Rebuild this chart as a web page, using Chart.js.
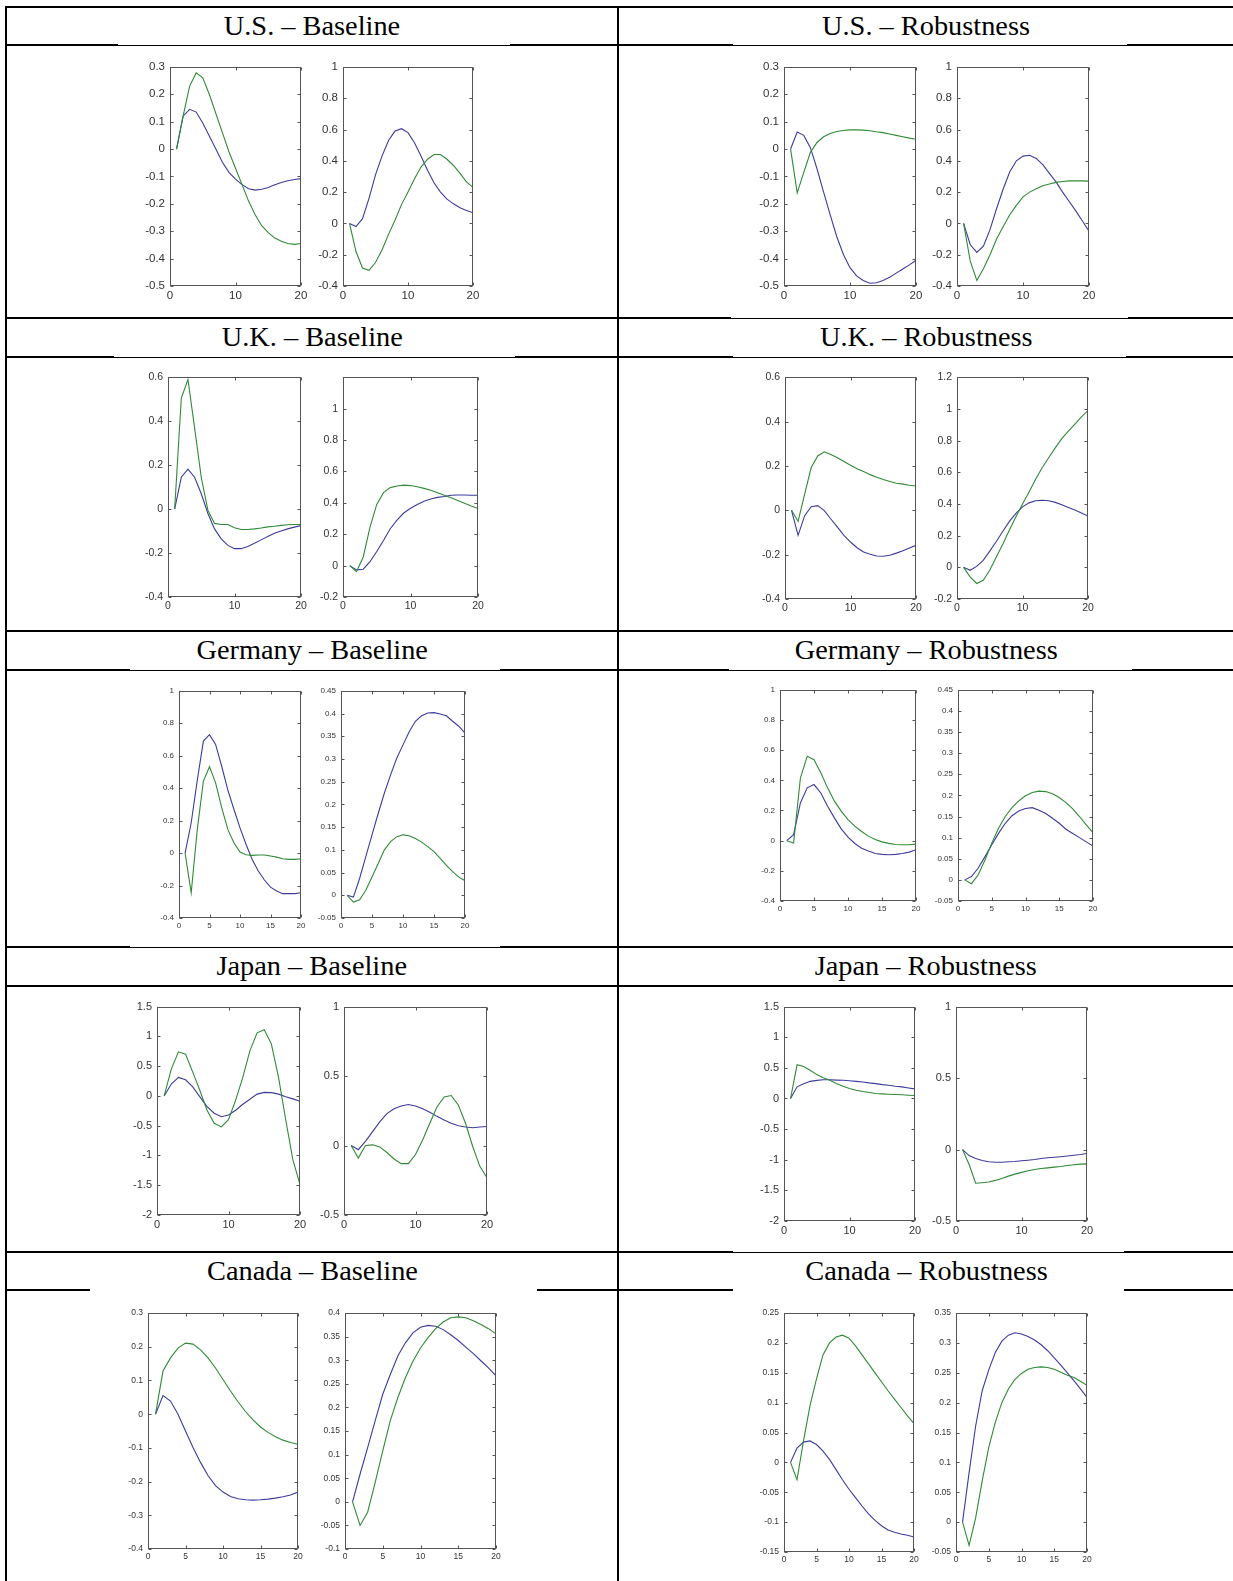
<!DOCTYPE html>
<html>
<head>
<meta charset="utf-8">
<script src="https://cdn.jsdelivr.net/npm/chart.js@4.4.0/dist/chart.umd.min.js"></script>
<style>
  body { margin: 0; background: #fff; }
  #page { position: relative; width: 1233px; height: 1581px; overflow: hidden; background: #fff; }
  .ln { position: absolute; background: #000; }
  .hd { position: absolute; text-align: center; font-family: "Liberation Serif", "Times New Roman", serif; font-size: 27px; color: #000; white-space: nowrap; }
  .hd span { display: inline-block; transform: scaleX(1.05); }
  .plot { position: absolute; }
</style>
</head>
<body>
<div id="page"></div>
<script>
// impulse response horizon
const horizon = [1, 2, 3, 4, 5, 6, 7, 8, 9, 10, 11, 12, 13, 14, 15, 16, 17, 18, 19, 20];

// U.S.
const usBaseLeftBlue = [0, 0.12, 0.145, 0.135, 0.095, 0.048, 0, -0.048, -0.085, -0.11, -0.13, -0.145, -0.15, -0.147, -0.14, -0.13, -0.122, -0.116, -0.111, -0.108];
const usBaseLeftGreen = [0, 0.12, 0.23, 0.278, 0.26, 0.2, 0.13, 0.06, -0.01, -0.07, -0.13, -0.19, -0.24, -0.28, -0.305, -0.325, -0.337, -0.345, -0.348, -0.345];
const usBaseRightBlue = [0, -0.02, 0.03, 0.16, 0.31, 0.43, 0.53, 0.59, 0.605, 0.58, 0.515, 0.43, 0.34, 0.26, 0.2, 0.155, 0.125, 0.1, 0.083, 0.068];
const usBaseRightGreen = [0, -0.18, -0.285, -0.3, -0.25, -0.17, -0.07, 0.02, 0.12, 0.2, 0.285, 0.36, 0.41, 0.44, 0.44, 0.41, 0.37, 0.32, 0.265, 0.23];
const usRobLeftBlue = [0, 0.062, 0.05, 0.005, -0.072, -0.157, -0.24, -0.32, -0.385, -0.433, -0.463, -0.48, -0.49, -0.488, -0.48, -0.468, -0.453, -0.438, -0.423, -0.406];
const usRobLeftGreen = [0, -0.16, -0.085, -0.012, 0.024, 0.045, 0.057, 0.064, 0.068, 0.07, 0.07, 0.069, 0.067, 0.063, 0.06, 0.055, 0.05, 0.045, 0.04, 0.036];
const usRobRightBlue = [0, -0.135, -0.185, -0.145, -0.04, 0.095, 0.22, 0.33, 0.4, 0.43, 0.435, 0.415, 0.375, 0.32, 0.265, 0.2, 0.14, 0.08, 0.015, -0.05];
const usRobRightGreen = [0, -0.24, -0.365, -0.29, -0.2, -0.1, -0.02, 0.055, 0.115, 0.17, 0.2, 0.222, 0.24, 0.252, 0.262, 0.268, 0.272, 0.273, 0.272, 0.27];

// U.K.
const ukBaseLeftBlue = [0, 0.145, 0.182, 0.145, 0.07, -0.02, -0.09, -0.135, -0.165, -0.18, -0.18, -0.17, -0.155, -0.14, -0.125, -0.11, -0.1, -0.09, -0.082, -0.075];
const ukBaseLeftGreen = [0, 0.505, 0.59, 0.37, 0.145, -0.005, -0.065, -0.07, -0.07, -0.085, -0.093, -0.093, -0.09, -0.086, -0.081, -0.078, -0.074, -0.071, -0.07, -0.07];
const ukBaseRightBlue = [0, -0.027, -0.023, 0.025, 0.09, 0.16, 0.235, 0.29, 0.335, 0.365, 0.39, 0.41, 0.425, 0.435, 0.44, 0.448, 0.45, 0.45, 0.448, 0.448];
const ukBaseRightGreen = [0, -0.038, 0.055, 0.245, 0.39, 0.465, 0.497, 0.507, 0.513, 0.51, 0.503, 0.492, 0.48, 0.465, 0.448, 0.432, 0.415, 0.398, 0.38, 0.364];
const ukRobLeftBlue = [0, -0.113, -0.024, 0.016, 0.021, -0.001, -0.039, -0.076, -0.113, -0.143, -0.169, -0.188, -0.198, -0.206, -0.207, -0.203, -0.193, -0.182, -0.17, -0.158];
const ukRobLeftGreen = [0, -0.05, 0.073, 0.193, 0.245, 0.264, 0.252, 0.237, 0.22, 0.203, 0.188, 0.175, 0.161, 0.149, 0.139, 0.13, 0.122, 0.118, 0.113, 0.11];
const ukRobRightBlue = [0, -0.019, 0.006, 0.044, 0.102, 0.163, 0.228, 0.29, 0.34, 0.382, 0.407, 0.42, 0.424, 0.42, 0.41, 0.395, 0.378, 0.362, 0.343, 0.324];
const ukRobRightGreen = [0, -0.06, -0.102, -0.082, -0.019, 0.065, 0.148, 0.236, 0.32, 0.4, 0.476, 0.556, 0.629, 0.692, 0.754, 0.813, 0.86, 0.905, 0.95, 0.99];

// Germany
const deBaseLeftBlue = [0, 0.187, 0.45, 0.69, 0.73, 0.67, 0.535, 0.39, 0.27, 0.155, 0.053, -0.04, -0.11, -0.166, -0.21, -0.234, -0.25, -0.25, -0.25, -0.244];
const deBaseLeftGreen = [0, -0.245, 0.146, 0.444, 0.532, 0.433, 0.28, 0.146, 0.064, 0.006, -0.01, -0.014, -0.012, -0.012, -0.018, -0.025, -0.035, -0.039, -0.039, -0.035];
const deBaseRightBlue = [0, -0.004, 0.037, 0.085, 0.133, 0.18, 0.225, 0.265, 0.302, 0.331, 0.36, 0.383, 0.395, 0.401, 0.402, 0.399, 0.395, 0.383, 0.372, 0.357];
const deBaseRightGreen = [0, -0.015, -0.01, 0.011, 0.04, 0.07, 0.1, 0.118, 0.129, 0.133, 0.131, 0.125, 0.117, 0.107, 0.096, 0.081, 0.066, 0.052, 0.04, 0.032];
const deRobLeftBlue = [0, 0.04, 0.25, 0.35, 0.372, 0.316, 0.228, 0.151, 0.078, 0.023, -0.019, -0.05, -0.069, -0.085, -0.091, -0.093, -0.091, -0.085, -0.076, -0.06];
const deRobLeftGreen = [0, -0.015, 0.415, 0.56, 0.537, 0.45, 0.35, 0.262, 0.196, 0.14, 0.096, 0.061, 0.03, 0.008, -0.008, -0.018, -0.025, -0.027, -0.027, -0.023];
const deRobRightBlue = [0, 0.008, 0.028, 0.055, 0.083, 0.11, 0.134, 0.152, 0.163, 0.169, 0.171, 0.165, 0.157, 0.146, 0.134, 0.12, 0.11, 0.1, 0.09, 0.08];
const deRobRightGreen = [0, -0.009, 0.012, 0.047, 0.087, 0.122, 0.15, 0.171, 0.187, 0.199, 0.207, 0.21, 0.209, 0.204, 0.195, 0.183, 0.168, 0.15, 0.13, 0.112];

// Japan
const jpBaseLeftBlue = [0, 0.2, 0.31, 0.27, 0.15, -0.015, -0.18, -0.29, -0.35, -0.32, -0.24, -0.14, -0.055, 0.03, 0.06, 0.055, 0.03, -0.015, -0.05, -0.09];
const jpBaseLeftGreen = [0, 0.45, 0.74, 0.7, 0.4, 0.09, -0.24, -0.46, -0.52, -0.4, -0.07, 0.31, 0.76, 1.06, 1.11, 0.87, 0.31, -0.4, -1.07, -1.49];
const jpBaseRightBlue = [0, -0.03, 0.03, 0.1, 0.17, 0.23, 0.265, 0.285, 0.295, 0.285, 0.265, 0.24, 0.21, 0.183, 0.16, 0.143, 0.133, 0.128, 0.133, 0.137];
const jpBaseRightGreen = [0, -0.09, 0, 0.005, -0.01, -0.05, -0.097, -0.13, -0.13, -0.065, 0.04, 0.16, 0.278, 0.35, 0.36, 0.29, 0.16, -0.007, -0.15, -0.232];
const jpRobLeftBlue = [0, 0.19, 0.24, 0.28, 0.295, 0.305, 0.305, 0.3, 0.297, 0.29, 0.28, 0.27, 0.255, 0.243, 0.227, 0.215, 0.2, 0.19, 0.172, 0.156];
const jpRobLeftGreen = [0, 0.55, 0.523, 0.46, 0.39, 0.34, 0.297, 0.243, 0.2, 0.162, 0.135, 0.113, 0.097, 0.081, 0.075, 0.07, 0.065, 0.06, 0.054, 0.049];
const jpRobRightBlue = [0, -0.042, -0.063, -0.077, -0.086, -0.089, -0.089, -0.086, -0.084, -0.079, -0.075, -0.07, -0.063, -0.058, -0.054, -0.05, -0.045, -0.04, -0.035, -0.028];
const jpRobRightGreen = [0, -0.105, -0.236, -0.232, -0.227, -0.216, -0.202, -0.186, -0.172, -0.16, -0.149, -0.14, -0.133, -0.128, -0.123, -0.119, -0.112, -0.107, -0.102, -0.1];

// Canada
const caBaseLeftBlue = [0, 0.055, 0.039, 0, -0.05, -0.099, -0.143, -0.182, -0.212, -0.231, -0.244, -0.251, -0.254, -0.255, -0.254, -0.252, -0.249, -0.245, -0.24, -0.231];
const caBaseLeftGreen = [0, 0.128, 0.167, 0.196, 0.211, 0.208, 0.191, 0.167, 0.137, 0.103, 0.069, 0.037, 0.008, -0.017, -0.038, -0.054, -0.067, -0.077, -0.084, -0.089];
const caBaseRightBlue = [0, 0.059, 0.115, 0.172, 0.228, 0.27, 0.309, 0.337, 0.358, 0.37, 0.374, 0.372, 0.365, 0.354, 0.342, 0.328, 0.314, 0.299, 0.284, 0.267];
const caBaseRightGreen = [0, -0.05, -0.022, 0.041, 0.108, 0.172, 0.221, 0.263, 0.298, 0.326, 0.348, 0.367, 0.381, 0.39, 0.392, 0.39, 0.384, 0.376, 0.367, 0.356];
const caRobLeftBlue = [0, 0.024, 0.034, 0.036, 0.03, 0.019, 0.005, -0.012, -0.029, -0.045, -0.059, -0.073, -0.086, -0.097, -0.106, -0.113, -0.117, -0.12, -0.122, -0.125];
const caRobLeftGreen = [0, -0.029, 0.036, 0.095, 0.14, 0.18, 0.2, 0.21, 0.213, 0.208, 0.195, 0.18, 0.165, 0.15, 0.135, 0.12, 0.106, 0.092, 0.078, 0.065];
const caRobRightBlue = [0, 0.083, 0.161, 0.22, 0.255, 0.284, 0.303, 0.313, 0.317, 0.315, 0.311, 0.305, 0.297, 0.287, 0.275, 0.263, 0.25, 0.237, 0.223, 0.209];
const caRobRightGreen = [0, -0.039, 0.007, 0.069, 0.125, 0.167, 0.2, 0.223, 0.239, 0.249, 0.256, 0.259, 0.26, 0.259, 0.256, 0.251, 0.246, 0.242, 0.236, 0.229];

// cell titles
const titles = [
  ['U.S. \u2013 Baseline', 'U.S. \u2013 Robustness'],
  ['U.K. \u2013 Baseline', 'U.K. \u2013 Robustness'],
  ['Germany \u2013 Baseline', 'Germany \u2013 Robustness'],
  ['Japan \u2013 Baseline', 'Japan \u2013 Robustness'],
  ['Canada \u2013 Baseline', 'Canada \u2013 Robustness']
];

// y axis: [min, max, step], x step
const panels = [
  { box: [170, 67, 301, 289], y: [-0.5, 0.3, 0.1], xs: 10, fs: 11.5, blue: usBaseLeftBlue, green: usBaseLeftGreen },
  { box: [343, 67, 473, 289], y: [-0.4, 1, 0.2], xs: 10, fs: 11.5, blue: usBaseRightBlue, green: usBaseRightGreen },
  { box: [784, 67, 916, 289], y: [-0.5, 0.3, 0.1], xs: 10, fs: 11.5, blue: usRobLeftBlue, green: usRobLeftGreen },
  { box: [957, 67, 1089, 289], y: [-0.4, 1, 0.2], xs: 10, fs: 11.5, blue: usRobRightBlue, green: usRobRightGreen },

  { box: [168, 377, 301, 599], y: [-0.4, 0.6, 0.2], xs: 10, fs: 10.5, blue: ukBaseLeftBlue, green: ukBaseLeftGreen },
  { box: [343, 377, 478, 599], y: [-0.2, 1.2, 0.2], xs: 10, fs: 10.5, hideMax: true, blue: ukBaseRightBlue, green: ukBaseRightGreen },
  { box: [785, 377, 916, 601], y: [-0.4, 0.6, 0.2], xs: 10, fs: 10.5, blue: ukRobLeftBlue, green: ukRobLeftGreen },
  { box: [957, 377, 1088, 601], y: [-0.2, 1.2, 0.2], xs: 10, fs: 10.5, blue: ukRobRightBlue, green: ukRobRightGreen },

  { box: [179, 691, 301, 919], y: [-0.4, 1, 0.2], xs: 5, fs: 8, blue: deBaseLeftBlue, green: deBaseLeftGreen },
  { box: [341, 691, 465, 919], y: [-0.05, 0.45, 0.05], xs: 5, fs: 8, blue: deBaseRightBlue, green: deBaseRightGreen },
  { box: [780, 690, 916, 902], y: [-0.4, 1, 0.2], xs: 5, fs: 8, blue: deRobLeftBlue, green: deRobLeftGreen },
  { box: [958, 690, 1093, 902], y: [-0.05, 0.45, 0.05], xs: 5, fs: 8, blue: deRobRightBlue, green: deRobRightGreen },

  { box: [157, 1007, 300, 1218], y: [-2, 1.5, 0.5], xs: 10, fs: 11, blue: jpBaseLeftBlue, green: jpBaseLeftGreen },
  { box: [344, 1007, 487, 1218], y: [-0.5, 1, 0.5], xs: 10, fs: 11, blue: jpBaseRightBlue, green: jpBaseRightGreen },
  { box: [784, 1007, 915, 1224], y: [-2, 1.5, 0.5], xs: 10, fs: 11, blue: jpRobLeftBlue, green: jpRobLeftGreen },
  { box: [956, 1007, 1087, 1224], y: [-0.5, 1, 0.5], xs: 10, fs: 11, blue: jpRobRightBlue, green: jpRobRightGreen },

  { box: [148, 1313, 298, 1550], y: [-0.4, 0.3, 0.1], xs: 5, fs: 8.5, blue: caBaseLeftBlue, green: caBaseLeftGreen },
  { box: [345, 1313, 496, 1550], y: [-0.1, 0.4, 0.05], xs: 5, fs: 8.5, blue: caBaseRightBlue, green: caBaseRightGreen },
  { box: [784, 1313, 914, 1553], y: [-0.15, 0.25, 0.05], xs: 5, fs: 8.5, blue: caRobLeftBlue, green: caRobLeftGreen },
  { box: [956, 1313, 1087, 1553], y: [-0.05, 0.35, 0.05], xs: 5, fs: 8.5, blue: caRobRightBlue, green: caRobRightGreen }
];

const page = document.getElementById('page');

function line(x, y, w, h) {
  const d = document.createElement('div');
  d.className = 'ln';
  d.style.left = x + 'px'; d.style.top = y + 'px';
  d.style.width = w + 'px'; d.style.height = h + 'px';
  page.appendChild(d);
}

// horizontal rules: y, then [x1, x2, thickness] segments (thin where the pasted pictures overlap them)
const rules = [
  [6, [[5, 1233, 2]]],
  [44, [[5, 118, 2], [118, 510, 1], [510, 733, 2], [733, 1127, 1], [1127, 1233, 2]]],
  [317, [[5, 731, 2], [731, 1128, 1], [1128, 1233, 2]]],
  [356, [[5, 114, 2], [114, 515, 1], [515, 733, 2], [733, 1126, 1], [1126, 1233, 2]]],
  [630, [[5, 1233, 2]]],
  [669, [[5, 130, 2], [130, 500, 1], [500, 729, 2], [729, 1132, 1], [1132, 1233, 2]]],
  [946, [[5, 130, 2], [130, 500, 1], [500, 1233, 2]]],
  [985, [[5, 1233, 2]]],
  [1251, [[5, 733, 2], [733, 1124, 1], [1124, 1233, 2]]],
  [1289, [[5, 90, 2], [537, 733, 2], [1124, 1233, 2]]]
];
rules.forEach(([y, segs]) => segs.forEach(([a, b, t]) => line(a, t === 1 ? y + 1 : y, b - a, t)));
line(5, 6, 2, 1575);
line(617, 6, 2, 1575);

// header rows between rules
const headRows = [[6, 44], [317, 356], [630, 669], [946, 985], [1251, 1289]];
headRows.forEach(([y1, y2], r) => {
  [[7, 617], [619, 1233]].forEach(([x1, x2], c) => {
    const d = document.createElement('div');
    d.className = 'hd';
    d.style.left = x1 + 'px'; d.style.width = (x2 - x1) + 'px';
    d.style.top = (y1 + 2) + 'px'; d.style.height = (y2 - y1 - 2) + 'px';
    d.style.lineHeight = (y2 - y1 - 2) + 'px';
    d.innerHTML = '<span>' + titles[r][c] + '</span>';
    page.appendChild(d);
  });
});

// MATLAB-like frame with inward ticks on all four sides
const frameBox = {
  id: 'frameBox',
  afterDatasetsDraw(chart) {
    const { ctx, chartArea: a, scales } = chart;
    const L = Math.round(a.left) + 0.5, R = Math.round(a.right) - 0.5;
    const T = Math.round(a.top) + 0.5, B = Math.round(a.bottom) - 0.5;
    ctx.save();
    ctx.strokeStyle = '#555';
    ctx.lineWidth = 1;
    ctx.strokeRect(L, T, R - L, B - T);
    ctx.beginPath();
    scales.y.ticks.forEach(t => {
      const py = Math.round(scales.y.getPixelForValue(t.value)) + 0.5;
      ctx.moveTo(L, py); ctx.lineTo(L + 3, py);
      ctx.moveTo(R, py); ctx.lineTo(R - 3, py);
    });
    scales.x.ticks.forEach(t => {
      const px = Math.round(scales.x.getPixelForValue(t.value)) + 0.5;
      ctx.moveTo(px, T); ctx.lineTo(px, T + 3);
      ctx.moveTo(px, B); ctx.lineTo(px, B - 3);
    });
    ctx.stroke();
    ctx.restore();
  }
};

const Y_W = 48, X_H = 20, PAD_T = 9, PAD_R = 16;
const BLUE = '#3c3c9e', GREEN = '#308a36';

const fmt = v => String(+v.toFixed(4));

panels.forEach(p => {
  const [x0, y0, x1, y1] = p.box;
  const w = (x1 - x0) + Y_W + PAD_R;
  const h = (y1 - y0) + PAD_T + X_H;
  const wrap = document.createElement('div');
  wrap.className = 'plot';
  wrap.style.left = (x0 - Y_W) + 'px';
  wrap.style.top = (y0 - PAD_T) + 'px';
  const cv = document.createElement('canvas');
  cv.width = w; cv.height = h;
  cv.style.width = w + 'px'; cv.style.height = h + 'px';
  wrap.appendChild(cv);
  page.appendChild(wrap);

  const font = { family: '"Liberation Sans", Arial, sans-serif', size: p.fs };
  const chart = new Chart(cv, {
    type: 'line',
    data: {
      datasets: [
        { data: p.blue.map((v, i) => ({ x: horizon[i], y: v })), borderColor: BLUE, borderWidth: 1.1, pointRadius: 0, tension: 0, order: 1 },
        { data: p.green.map((v, i) => ({ x: horizon[i], y: v })), borderColor: GREEN, borderWidth: 1.1, pointRadius: 0, tension: 0, order: 0 }
      ]
    },
    options: {
      responsive: false,
      animation: false,
      events: [],
      layout: { padding: { top: PAD_T, right: PAD_R, left: 0, bottom: 0 } },
      plugins: { legend: { display: false }, tooltip: { enabled: false } },
      scales: {
        x: {
          type: 'linear', min: 0, max: 20,
          ticks: { stepSize: p.xs, autoSkip: false, maxRotation: 0, padding: 3, font, color: '#333', callback: fmt },
          grid: { display: false, drawTicks: false },
          border: { display: false },
          afterFit: s => { s.height = X_H; }
        },
        y: {
          min: p.y[0], max: p.y[1],
          ticks: {
            stepSize: p.y[2], autoSkip: false, padding: 5, font, color: '#333',
            callback: v => (p.hideMax && Math.abs(v - p.y[1]) < 1e-9) ? '' : fmt(v)
          },
          grid: { display: false, drawTicks: false },
          border: { display: false },
          afterFit: s => { s.width = Y_W; }
        }
      }
    },
    plugins: [frameBox]
  });

  // pin the plotting area onto its box
  const ca = chart.chartArea;
  wrap.style.left = Math.round(x0 - ca.left) + 'px';
  wrap.style.top = Math.round(y0 - ca.top) + 'px';
});
</script>
</body>
</html>
